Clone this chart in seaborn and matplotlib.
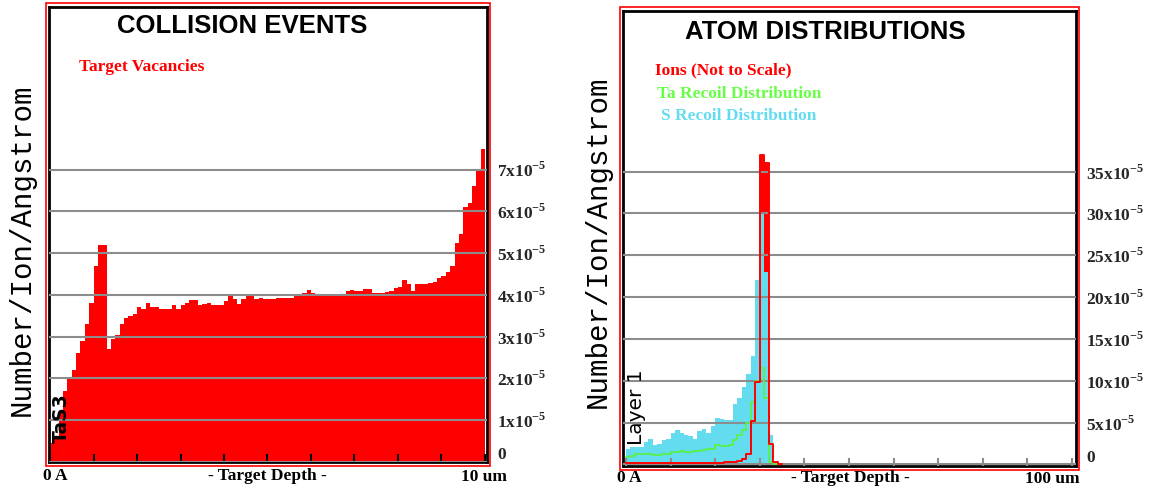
import numpy as np
import pandas as pd
import matplotlib
matplotlib.use("Agg")
import matplotlib.pyplot as plt
from matplotlib.patches import Rectangle
import seaborn as sns

# ---------------- data (values in units of 1e-5 per ion per Angstrom) ----------------
# Left: target vacancies, 100 bins over 0..10 um
vacancy_edges_um = np.linspace(0, 10, 101)
vacancies = [0.45, 0.6, 1.2, 1.7, 2.0, 2.2, 2.6, 2.9, 3.3, 3.8,
             4.7, 5.2, 5.2, 2.7, 2.95, 3.05, 3.3, 3.45, 3.5, 3.55,
             3.7, 3.65, 3.8, 3.7, 3.7, 3.65, 3.65, 3.65, 3.75, 3.65,
             3.75, 3.8, 3.87, 3.87, 3.75, 3.77, 3.8, 3.75, 3.75, 3.75,
             3.85, 3.97, 3.9, 3.78, 3.9, 3.97, 3.97, 3.9, 3.93, 3.9,
             3.9, 3.9, 3.93, 3.93, 3.93, 3.93, 3.97, 3.97, 4.05, 4.12,
             4.05, 4.0, 4.0, 4.03, 4.03, 4.0, 4.0, 4.0, 4.1, 4.12,
             4.1, 4.1, 4.15, 4.15, 4.05, 4.05, 4.05, 4.08, 4.1, 4.17,
             4.2, 4.35, 4.25, 4.1, 4.25, 4.25, 4.25, 4.28, 4.3, 4.4,
             4.45, 4.55, 4.7, 5.25, 5.45, 6.1, 6.2, 6.6, 7.0, 7.5]

# Right: atom distributions, 1 um bins from 0 um (beyond 35 um all zero)
dist_edges_um = np.arange(0, 36, 1.0)
s_recoil = [1.8, 2.1, 2.1, 2.1, 2.7, 3.0, 2.3, 2.4, 2.9, 3.0,
            3.8, 4.1, 3.8, 3.5, 3.4, 3.0, 4.0, 4.3, 3.8, 4.6,
            5.6, 5.4, 5.3, 5.3, 7.2, 8.0, 9.3, 10.8, 13.0, 22.0,
            30.0, 23.0, 3.5, 0.3, 0.0]
ta_recoil = [0.95, 1.0, 1.2, 1.3, 1.3, 1.3, 1.15, 1.1, 1.2, 1.3,
             1.45, 1.55, 1.6, 1.45, 1.5, 1.6, 1.65, 1.7, 1.8, 1.9,
             2.3, 2.2, 2.2, 2.3, 2.9, 3.5, 4.1, 5.0, 7.5, 10.0,
             11.5, 8.0, 0.3, 0.0, 0.0]
ions = [0.15, 0.15, 0.15, 0.15, 0.15, 0.15, 0.15, 0.15, 0.15, 0.15,
        0.15, 0.15, 0.15, 0.15, 0.15, 0.15, 0.15, 0.15, 0.2, 0.2,
        0.2, 0.2, 0.25, 0.3, 0.3, 0.4, 0.6, 1.2, 5.2, 9.9,
        37.0, 36.0, 2.5, 0.3, 0.0]

left_ticks = [0, 1, 2, 3, 4, 5, 6, 7]
right_ticks = [0, 5, 10, 15, 20, 25, 30, 35]

RED = "#ff0000"
CYAN = "#64dcf0"
GREEN = "#5cf03c"
GREEN_TXT = "#66ff44"
GRID = "#8c8c8c"

left_df = pd.DataFrame({
    "depth": (vacancy_edges_um[:-1] + vacancy_edges_um[1:]) / 2,
    "vacancies": vacancies,
})
right_df = pd.DataFrame({
    "depth": (dist_edges_um[:-1] + dist_edges_um[1:]) / 2,
    "ions": ions,
    "s_recoil": s_recoil,
    "ta_recoil": ta_recoil,
})

# ---------------- style ----------------
sns.set_style("white")
plt.rcParams["font.family"] = ["Liberation Serif", "DejaVu Serif"]
plt.rcParams["mathtext.fontset"] = "custom"
plt.rcParams["mathtext.bf"] = "Liberation Serif:bold"
plt.rcParams["mathtext.rm"] = "Liberation Serif"

W, H = 1149, 493
fig = plt.figure(figsize=(W / 100, H / 100), dpi=100)


def fx(px):
    return px / W


def fy(py):
    return 1 - py / H


def add_axes(x0, x1, y0, y1):
    return fig.add_axes([fx(x0), fy(y1), fx(x1) - fx(x0), fy(y0) - fy(y1)])


def sci_labels(vals):
    out = []
    for v in vals:
        out.append("" if v == 0 else r"$\mathbf{%dx10}^{\mathbf{-5}}$" % v)
    return out


def style_axes(ax, yticks, xticks, tickcolor):
    ax.set_axisbelow(False)
    ax.yaxis.tick_right()
    ax.set_yticks(yticks)
    ax.set_yticklabels(sci_labels(yticks))
    for lbl in ax.get_yticklabels():
        lbl.set_fontweight("bold")
        lbl.set_fontfamily("Liberation Serif")
    ax.tick_params(axis="y", length=0, pad=7, labelsize=12.5)
    # zero label sits slightly above the baseline, as in the original
    ax.annotate("0", xy=(1, 0), xycoords=("axes fraction", "data"),
                xytext=(7.5, 5), textcoords="offset points", ha="left", va="center",
                family="Liberation Serif", weight="bold", size=12.5,
                annotation_clip=False)
    ax.set_xticks(xticks)
    ax.set_xticklabels([])
    ax.tick_params(axis="x", direction="in", length=6, width=1.5, color=tickcolor,
                   bottom=True)
    ax.yaxis.grid(True, color=GRID, lw=1.5)
    ax.xaxis.grid(False)
    for s in ax.spines.values():
        s.set_visible(True)
        s.set_color("black")
        s.set_linewidth(2)
    ax.set_xlabel("")
    ax.set_ylabel("")


# ---------------- left panel: collision events ----------------
axL = add_axes(49, 487, 7, 462)
sns.histplot(data=left_df, x="depth", weights="vacancies", bins=list(vacancy_edges_um),
             element="step", fill=True, color=RED, alpha=1, linewidth=0, ax=axL)
axL.set_xlim(-0.023, 10.046)
axL.set_ylim(0, 10.89)
style_axes(axL, left_ticks, np.arange(0, 11, 1), "black")

# ---------------- right panel: atom distributions ----------------
axR = add_axes(623, 1076, 11, 465.5)
edgesR = list(dist_edges_um)
sns.histplot(data=right_df, x="depth", weights="ions", bins=edgesR, element="step",
             fill=True, color=RED, alpha=1, linewidth=0, ax=axR, zorder=1)
sns.histplot(data=right_df, x="depth", weights="s_recoil", bins=edgesR, element="step",
             fill=True, color=CYAN, alpha=1, linewidth=0, ax=axR, zorder=1.5)
sns.histplot(data=right_df, x="depth", weights="ta_recoil", bins=edgesR, element="step",
             fill=False, color=GREEN, linewidth=1.2, ax=axR, zorder=3)
sns.histplot(data=right_df, x="depth", weights="ions", bins=edgesR, element="step",
             fill=False, color=RED, linewidth=1.4, ax=axR, zorder=3.2)
axR.set_xlim(-0.67, 100.9)
axR.set_ylim(-0.12, 54.2)
style_axes(axR, right_ticks, np.arange(0, 101, 10), "#8c8c8c")

# ---------------- red outer frames ----------------
for (x0, y0, x1, y1) in [(46, 3, 490, 466), (620, 7, 1079, 470)]:
    fig.patches.append(Rectangle((fx(x0), fy(y1)), fx(x1) - fx(x0), fy(y0) - fy(y1),
                                 transform=fig.transFigure, fill=False,
                                 edgecolor=RED, lw=1.2))

# ---------------- texts ----------------
title_kw = dict(family="Liberation Sans", weight="bold", size=18.5, ha="center",
                va="center", color="black")
fig.text(fx(242), fy(26), "COLLISION EVENTS", **title_kw)
fig.text(fx(825), fy(32), "ATOM DISTRIBUTIONS", **title_kw)

leg_kw = dict(family="Liberation Serif", weight="bold", size=12.5, ha="left", va="center")
fig.text(fx(79), fy(67), "Target Vacancies", color=RED, **leg_kw)
fig.text(fx(655), fy(70), "Ions (Not to Scale)", color=RED, **leg_kw)
fig.text(fx(657), fy(94), "Ta Recoil Distribution", color=GREEN_TXT, **leg_kw)
fig.text(fx(661), fy(116), "S Recoil Distribution", color=CYAN, **leg_kw)

ylab_kw = dict(family="Liberation Mono", size=21, rotation=90, ha="center",
               va="center", color="black")
fig.text(fx(22), fy(250), "Number/Ion/Angstrom", **ylab_kw)
fig.text(fx(598), fy(242), "Number/Ion/Angstrom", **ylab_kw)

bot_kw = dict(family="Liberation Serif", weight="bold", size=12.5, va="center",
              color="black")
fig.text(fx(43), fy(476), "0 A", ha="left", **bot_kw)
fig.text(fx(267), fy(476), "- Target Depth -", ha="center", **bot_kw)
fig.text(fx(507), fy(477), "10 um", ha="right", **bot_kw)
fig.text(fx(617), fy(478), "0 A", ha="left", **bot_kw)
fig.text(fx(850), fy(478), "- Target Depth -", ha="center", **bot_kw)
fig.text(fx(1080), fy(479), "100 um", ha="right", **bot_kw)

fig.text(fx(61), fy(418), "TaS3", family="DejaVu Sans", weight="bold", size=13.5,
         rotation=90, ha="center", va="center", color="black")
fig.text(fx(637), fy(407), "Layer 1", family="DejaVu Sans", size=14.5,
         rotation=90, ha="center", va="center", color="black")

fig.savefig("out.png", dpi=100)
